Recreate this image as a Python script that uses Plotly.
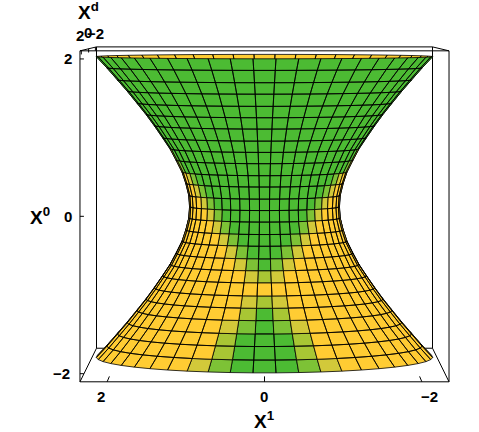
import math

import plotly.graph_objects as go

# heights of the grid rings (top to bottom) and the radius read at each one
ring_z = [2.0, 1.85, 1.69, 1.54, 1.38, 1.23, 1.08, 0.92, 0.77, 0.62, 0.46, 0.31, 0.15, 0.0,
          -0.15, -0.31, -0.46, -0.62, -0.77, -0.92, -1.08, -1.23, -1.38, -1.54, -1.69, -1.85, -2.0]
ring_r = [2.24, 2.10, 1.96, 1.83, 1.70, 1.58, 1.47, 1.36, 1.26, 1.18, 1.10, 1.05, 1.01, 1.0,
          1.01, 1.05, 1.10, 1.18, 1.26, 1.36, 1.47, 1.58, 1.70, 1.83, 1.96, 2.10, 2.24]

# column centres, in degrees from the front of the surface
col_angle = [-172.5, -165, -157.5, -150, -142.5, -135, -127.5, -120, -112.5, -105, -97.5, -90,
             -82.5, -75, -67.5, -60, -52.5, -45, -37.5, -30, -22.5, -15, -7.5, 0,
             7.5, 15, 22.5, 30, 37.5, 45, 52.5, 60, 67.5, 75, 82.5, 90,
             97.5, 105, 112.5, 120, 127.5, 135, 142.5, 150, 157.5, 165, 172.5, 180]
col_width = 7.5

# shade per band, one digit per column counted away from the front, yellow past the end
band_shade = ["0000000000000", "0000000000000", "0000000000000", "0000000000000",
              "0000000000000", "0000000000000", "0000000000000", "0000000000000",
              "000000000003", "000000000013", "00000000134", "0000000134", "000000134",
              "00000134", "0000134", "000134", "00134", "0134", "234", "4",
              "234", "024", "0134", "0024", "0024", "00134"]
shade_colors = ["#4cbb33", "#7dc236", "#a8c634", "#d2c93a", "#ffcc33"]

x_ticks = [2, 0, -2]
depth_ticks = [2, 0, -2]
z_ticks = [2, 0, -2]

box_x = 2.345
box_y = 2.345
box_z = 2.103

eye_dist = 50.0
eye_h = 2.66
px_per_unit = 75.0


def project(x, y, z):
    s = eye_dist / (eye_dist + y)
    return x * s, eye_h + (z - eye_h) * s


def ring_point(i, deg):
    a = math.radians(deg)
    return ring_r[i] * math.sin(a), -ring_r[i] * math.cos(a), ring_z[i]


def add_path(xs, ys, pts):
    for p in pts:
        u, v = project(*p)
        xs.append(u)
        ys.append(v)
    xs.append(None)
    ys.append(None)


# split the cells in far side / near side, by colour
cells = {}
for i in range(len(ring_z) - 1):
    shades = band_shade[i]
    for deg in col_angle:
        k = int(round(abs(deg) / col_width))
        level = int(shades[k]) if k < len(shades) else 4
        a0, a1 = deg - col_width / 2, deg + col_width / 2
        pts = [ring_point(i, a0), ring_point(i, a1), ring_point(i + 1, a1), ring_point(i + 1, a0), ring_point(i, a0)]
        proj = [project(*p) for p in pts]
        area = sum(proj[n][0] * proj[n + 1][1] - proj[n + 1][0] * proj[n][1] for n in range(4))
        side = 'near' if area < 0 else 'far'
        cells.setdefault((side, level), ([], []))
        add_path(cells[(side, level)][0], cells[(side, level)][1], pts)

fig = go.Figure()

# box edges
bx, by = [], []
for z in [box_z, -box_z]:
    add_path(bx, by, [(-box_x, -box_y, z), (box_x, -box_y, z), (box_x, box_y, z), (-box_x, box_y, z), (-box_x, -box_y, z)])
for x in [box_x, -box_x]:
    for y in [box_y, -box_y]:
        add_path(bx, by, [(x, y, -box_z), (x, y, box_z)])
# tick marks
for t in x_ticks:
    add_path(bx, by, [(t, -box_y, -box_z), (t, -box_y + 0.7, -box_z)])
for t in z_ticks:
    add_path(bx, by, [(box_x, -box_y, t), (box_x - 0.05, -box_y, t)])
for t in depth_ticks:
    add_path(bx, by, [(box_x, -t, box_z), (box_x, -t, box_z - 0.05)])
fig.add_trace(go.Scatter(x=bx, y=by, mode='lines', line=dict(color='black', width=1), hoverinfo='skip'))

for side in ['far', 'near']:
    for level, color in enumerate(shade_colors):
        if (side, level) in cells:
            xs, ys = cells[(side, level)]
            fig.add_trace(go.Scatter(x=xs, y=ys, mode='lines', fill='toself', fillcolor=color,
                                     line=dict(color='black', width=0.8), hoverinfo='skip'))

label_font = dict(family='Liberation Sans', size=15, color='black', weight=700)
title_font = dict(family='Liberation Sans', size=19, color='black', weight=700)
annotations = []


def add_label(text, pos, dx, dy, font=label_font):
    u, v = project(*pos)
    annotations.append(dict(text=text, x=u, y=v, xref='x', yref='y', xshift=dx, yshift=dy,
                            showarrow=False, font=font))


def tick_text(t):
    return str(t).replace('-', '\u2212')


for t, dx in zip(x_ticks, [-6, -1, 8]):
    add_label(tick_text(t), (t, -box_y, -box_z), dx, -15)
for t, dx in zip(z_ticks, [-12, -12, -18]):
    add_label(tick_text(t), (box_x, -box_y, t), dx, 0)
for t, dx, dy in zip(depth_ticks, [-1, -1, 0], [15, 16, 14]):
    add_label(tick_text(t), (box_x, -t, box_z), dx, dy)
add_label('X<sup>1</sup>', (0, -box_y, -box_z), 0, -38, title_font)
add_label('X<sup>0</sup>', (box_x, -box_y, 0), -40, 0, title_font)
add_label('X<sup>d</sup>', (box_x, 0, box_z), 0, 38, title_font)

fig.update_layout(
    width=479,
    height=432,
    margin=dict(l=0, r=0, t=0, b=0),
    paper_bgcolor='white',
    plot_bgcolor='white',
    showlegend=False,
    annotations=annotations,
    xaxis=dict(range=[264.5 / px_per_unit, -214.5 / px_per_unit], visible=False),
    yaxis=dict(range=[eye_h - 425 / px_per_unit, eye_h + 7 / px_per_unit], visible=False),
)

fig.write_html("out.html", config={'displayModeBar': False}, post_script="document.body.style.margin='0';")
